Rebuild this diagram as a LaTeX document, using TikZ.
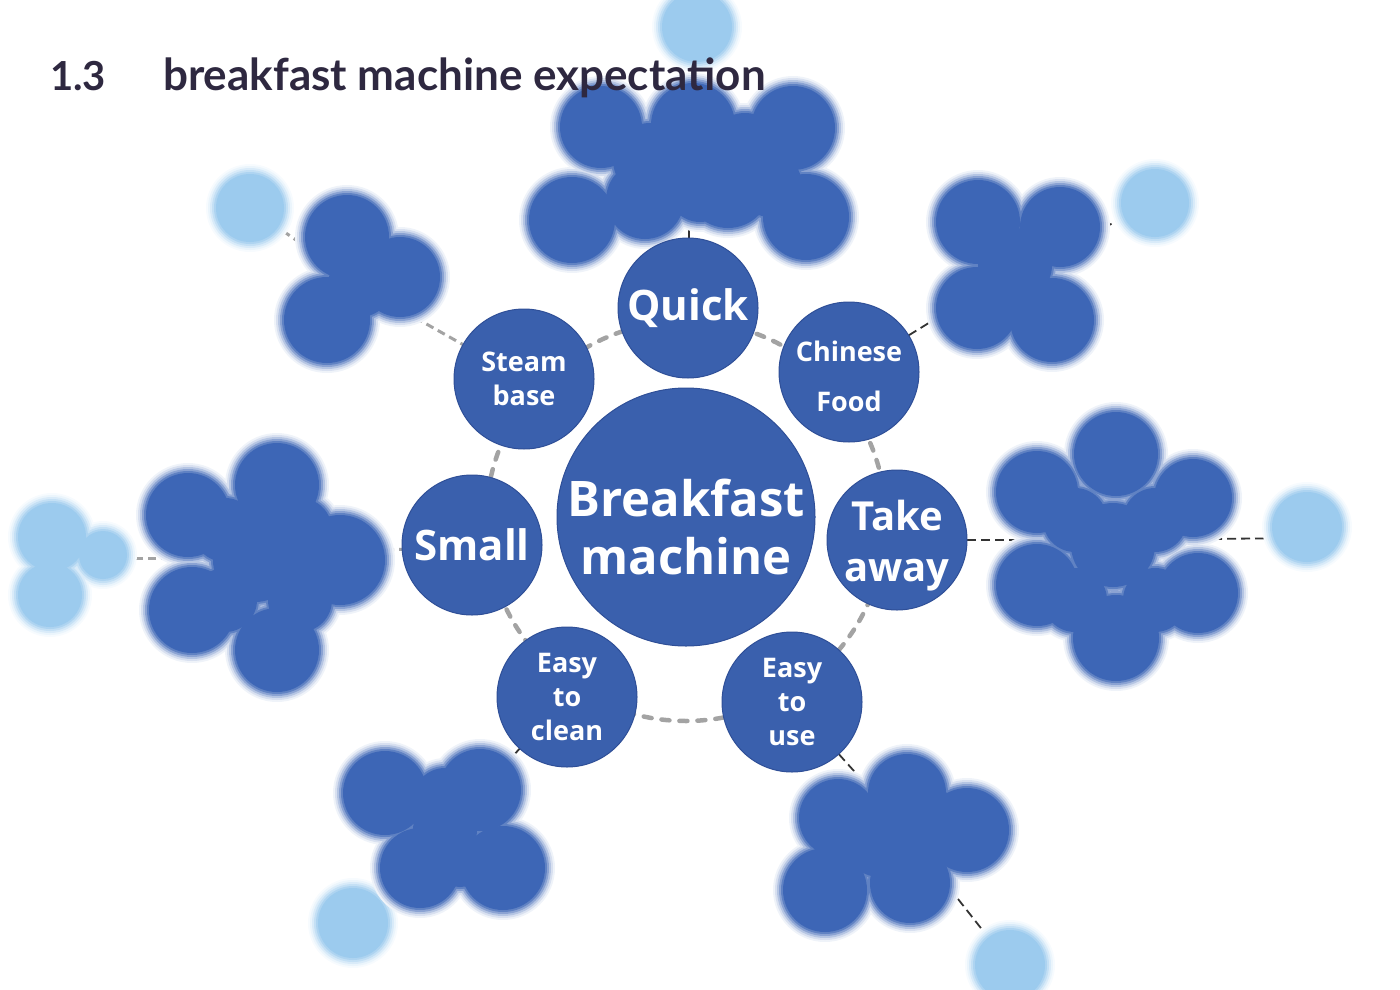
\documentclass[tikz,border=0pt]{standalone}
\usepackage{fontspec}
\setmainfont{Open Sans}
\newfontfamily\titlefont{Lato}
\definecolor{mainblue}{HTML}{3A60AD}
\definecolor{edgeblue}{HTML}{2F4F97}
\definecolor{clblue}{HTML}{3D66B6}
\definecolor{cllight}{HTML}{9CCBEE}
\definecolor{ringgray}{HTML}{A3A3A3}
\definecolor{titlecol}{HTML}{2E2840}
\newcommand\blurcluster[2]{%
  \foreach \d/\p in {7/8,5/20,3/38,1/60,-1/82,-3/100}{%
    \foreach \x/\y/\r in {#2}{%
      \fill[#1!\p!white] (\x,\y) circle[radius={(\r+\d)*1pt}];}}}
\tikzset{
  sat/.style={circle, fill=mainblue, draw=edgeblue, line width=1pt,
    minimum size=140pt, inner sep=0pt, text=white, align=center},
  midtext/.style={font=\bfseries\fontsize{27}{34}\selectfont},
  bigtext/.style={font=\bfseries\fontsize{42}{50}\selectfont},
  link/.style={draw=black!80, line width=1.8pt, dash pattern=on 9pt off 5pt},
  glink/.style={draw=ringgray, line width=3pt, dash pattern=on 8pt off 5pt},
  titletext/.style={anchor=base west, inner sep=0pt, text=titlecol,
    font=\titlefont\bfseries\fontsize{44}{46}\selectfont}
}
\begin{document}
\begin{tikzpicture}[x=1pt,y=-1pt]
\useasboundingbox (0,0) rectangle (1400,990);
% hub coordinates of the clusters
\coordinate (topc) at (690,165);
\coordinate (toplt) at (694,27);
\coordinate (ulc) at (375,295);
\coordinate (ullt) at (250,208);
\coordinate (urc) at (1015,270);
\coordinate (urlt) at (1155,203);
\coordinate (rc) at (1115,540);
\coordinate (rlt) at (1300,538);
\coordinate (lc) at (260,558);
\coordinate (llt) at (62,558);
\coordinate (blc) at (445,830);
\coordinate (bllt) at (353,923);
\coordinate (brc) at (880,800);
\coordinate (brlt) at (1010,965);
% satellites positions
\coordinate (pquick) at (688,308);
\coordinate (pchin) at (849,372);
\coordinate (ptake) at (897,540);
\coordinate (puse) at (792,702);
\coordinate (pclean) at (567,697);
\coordinate (psmall) at (472,545);
\coordinate (psteam) at (524,379);
% connectors
\draw[link] (pquick) -- (topc);
\draw[link] (topc) -- (toplt);
\draw[glink] (psteam) -- (ulc);
\draw[glink] (ulc) -- (ullt);
\draw[link] (pchin) -- (urc);
\draw[link] (urc) -- (urlt);
\draw[link] (ptake) -- (rc);
\draw[link] (rc) -- (rlt);
\draw[glink] (psmall) -- (lc);
\draw[glink] (lc) -- (llt);
\draw[link] (pclean) -- (blc);
\draw[link] (blc) -- (bllt);
\draw[link] (puse) -- (brc);
\draw[link] (brc) -- (brlt);
% blurred outer clusters
\blurcluster{cllight}{697/27/38}
\blurcluster{clblue}{601/127/44,693/125/45,793/128/45,572/220/46,645/200/42,728/185/46,806/217/46,650/160/40,745/150/40,700/190/35,770/185/35}
\blurcluster{cllight}{250/208/37}
\blurcluster{clblue}{347/237/45,400/277/43,327/320/46,360/285/35}
\blurcluster{cllight}{1155/203/37}
\blurcluster{clblue}{978/222/45,1060/227/43,977/308/44,1052/320/45,1015/265/40}
\blurcluster{cllight}{1307/527/38}
\blurcluster{clblue}{1116/454/45,1037/492/44,1193/498/42,1113/545/45,1037/585/44,1198/593/43,1116/638/46,1075/520/35,1155/520/35,1075/600/35,1155/600/35}
\blurcluster{cllight}{52/537/37,103/555/27,50/595/35}
\blurcluster{clblue}{277/485/45,188/515/45,255/560/45,340/560/48,192/610/46,277/650/45,225/530/35,225/600/35,300/530/35,300/600/35}
\blurcluster{cllight}{353/923/38}
\blurcluster{clblue}{385/793/45,480/790/44,445/830/35,420/868/43,503/868/45,445/800/35,460/860/30}
\blurcluster{cllight}{1010/965/38}
\blurcluster{clblue}{907/793/42,838/818/42,967/830/45,825/890/45,910/883/43,880/840/40,930/820/35}
% ring
\draw[ringgray, line width=4.5pt, line cap=round, dash pattern=on 8pt off 10pt] (686,521) circle[radius=200pt];
% main nodes
\node[sat, minimum size=258pt] (center) at (686,517) {};
\node[text=white, align=center, inner sep=0pt, font=\bfseries\fontsize{49}{58}\selectfont] (centertext) at (686,527) {Breakfast\\machine};
\node[sat, bigtext] (quick) at (pquick) {Quick};
\node[sat] (chinese) at (pchin) {};
\node[text=white, align=center, inner sep=0pt, font=\bfseries\fontsize{27}{50}\selectfont] (chinesetext) at (849,376) {Chinese\\Food};
\node[sat] (take) at (ptake) {};
\node[text=white, align=center, inner sep=0pt, font=\bfseries\fontsize{40}{51}\selectfont] (taketext) at (897,546) {Take\\away};
\node[sat, midtext] (use) at (puse) {Easy\\to\\use};
\node[sat, midtext] (clean) at (pclean) {Easy\\to\\clean};
\node[sat, bigtext] (small) at (psmall) {Small};
\node[sat, midtext] (steam) at (psteam) {Steam\\base};
% title
\node[titletext, font=\titlefont\bfseries\fontsize{40}{44}\selectfont] (num) at (50,90) {1.3};
\node[titletext] (title) at (163,90) {breakfast machine expectation};
\end{tikzpicture}
\end{document}
